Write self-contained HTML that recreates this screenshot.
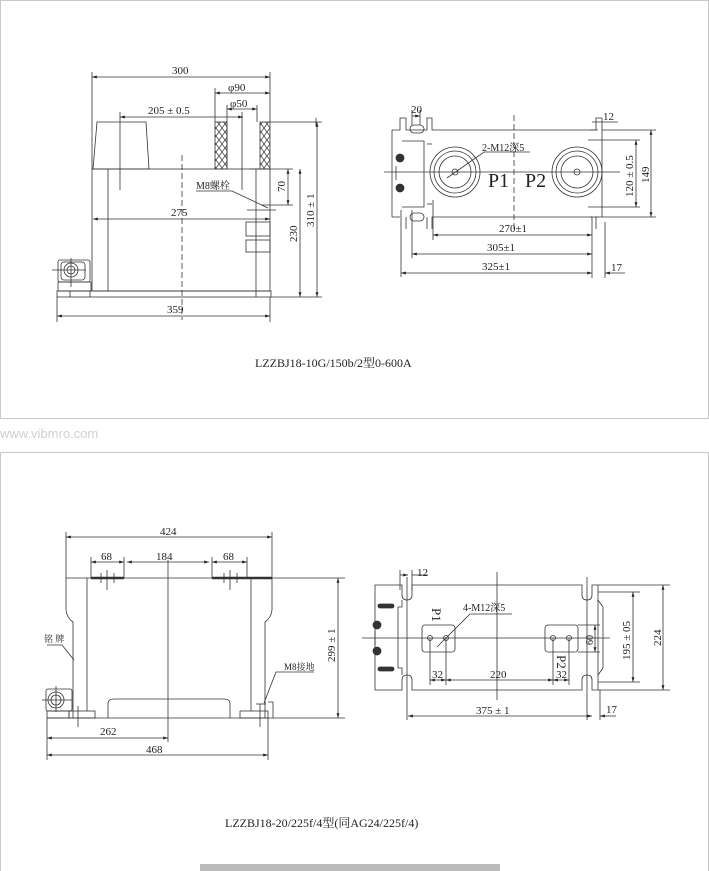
<!DOCTYPE html>
<html><head><meta charset="utf-8"><style>
html,body{margin:0;padding:0;background:#fff;}
svg{display:block;}
text{font-family:"Liberation Serif","Noto Serif CJK SC",serif;fill:#222;}
</style></head><body>
<svg width="709" height="871" viewBox="0 0 709 871" xmlns="http://www.w3.org/2000/svg">
<defs>
<marker id="a" viewBox="0 0 10 10" refX="10" refY="5" markerWidth="6" markerHeight="6" orient="auto-start-reverse"><path d="M0,2 L10,5 L0,8z" fill="#222"/></marker>
<pattern id="h" width="6" height="8" patternUnits="userSpaceOnUse"><path d="M0,0 L6,8 M6,0 L0,8" stroke="#333" stroke-width="0.7"/></pattern>
</defs>
<!-- panels -->
<rect x="0.5" y="0.5" width="708" height="418" fill="none" stroke="#c8c8c8"/>
<rect x="0.5" y="452.5" width="708" height="430" fill="none" stroke="#c8c8c8"/>
<text x="0" y="438" font-family="Liberation Sans" font-size="13" style="font-family:'Liberation Sans',sans-serif;fill:#d0d0d0">www.vibmro.com</text>
<rect x="200" y="864" width="300" height="7" fill="#bbb"/>

<g stroke="#333" stroke-width="0.8" fill="none">
<!-- ===== TOP LEFT ===== -->
<line x1="92" y1="77" x2="270" y2="77" marker-start="url(#a)" marker-end="url(#a)"/>
<line x1="92" y1="72" x2="92" y2="169"/><line x1="270" y1="72" x2="270" y2="122"/>
<line x1="215" y1="93" x2="270" y2="93" marker-start="url(#a)" marker-end="url(#a)"/>
<line x1="215" y1="88" x2="215" y2="122"/>
<line x1="227" y1="109" x2="257" y2="109" marker-start="url(#a)" marker-end="url(#a)"/>
<line x1="227" y1="105" x2="227" y2="169"/><line x1="257" y1="105" x2="257" y2="122"/>
<line x1="120" y1="117" x2="243" y2="117" marker-start="url(#a)" marker-end="url(#a)"/>
<line x1="120" y1="112" x2="120" y2="190"/><line x1="242" y1="112" x2="242" y2="190"/>
<path d="M97,122 L146,122 L149,169 L93,169 Z"/>
<rect x="215" y="122" width="12" height="47" fill="url(#h)"/>
<rect x="260" y="122" width="10" height="47" fill="url(#h)"/>
<line x1="270" y1="122" x2="322" y2="122"/>
<line x1="316" y1="118" x2="316" y2="126"/>
<rect x="92" y="169" width="178" height="122"/>
<line x1="108" y1="169" x2="108" y2="291"/><line x1="256" y1="169" x2="256" y2="291"/>
<line x1="182" y1="155" x2="182" y2="320" stroke-dasharray="6,3"/>
<line x1="93" y1="219" x2="270" y2="219" marker-start="url(#a)" marker-end="url(#a)"/>
<line x1="247" y1="210" x2="276" y2="210"/>
<rect x="246" y="222" width="24" height="14"/><rect x="246" y="240" width="24" height="12"/>
<rect x="57" y="291" width="214" height="6"/>
<line x1="70" y1="291" x2="70" y2="297"/><line x1="90" y1="291" x2="90" y2="297"/><line x1="256" y1="291" x2="256" y2="297"/>
<rect x="58" y="260" width="32" height="22" rx="2"/>
<rect x="61" y="262" width="24" height="18" rx="3"/>
<circle cx="71" cy="270" r="7"/><circle cx="71" cy="270" r="4"/>
<line x1="52" y1="270" x2="86" y2="270"/><line x1="71" y1="258" x2="71" y2="287"/>
<rect x="58" y="282" width="33" height="9"/>
<line x1="57" y1="297" x2="57" y2="322"/><line x1="270" y1="297" x2="270" y2="322"/>
<line x1="57" y1="316" x2="270" y2="316" marker-start="url(#a)" marker-end="url(#a)"/>
<line x1="250" y1="169" x2="293" y2="169"/><line x1="262" y1="205" x2="293" y2="205"/>
<line x1="288" y1="169" x2="288" y2="205" marker-start="url(#a)" marker-end="url(#a)"/>
<line x1="300" y1="169" x2="300" y2="297" marker-start="url(#a)" marker-end="url(#a)"/>
<line x1="317" y1="122" x2="317" y2="297" marker-start="url(#a)" marker-end="url(#a)"/>
<line x1="271" y1="297" x2="322" y2="297"/>
<path d="M196,191 L232,191 L268,208"/>

<!-- ===== TOP RIGHT ===== -->
<path d="M392,130 L400,130 L400,118 L406,118 L406,130 L427,130 L427,118 L432,118 L432,130 L596,130 L596,118 L602,118 L602,217 L596,217 L596,229 M592,217 L432,217 L432,229 M427,217 L427,229 M406,217 L406,229 M400,217 L392,217 Z"/>
<line x1="392" y1="130" x2="392" y2="217"/>
<path d="M402,141 L424,141 L424,207 L402,207"/>
<line x1="427" y1="144" x2="432" y2="144"/><line x1="427" y1="204" x2="432" y2="204"/>
<rect x="410" y="125" width="14" height="8" rx="4"/><rect x="410" y="213" width="14" height="8" rx="4"/>
<circle cx="400" cy="158" r="4" fill="#333"/><circle cx="400" cy="188" r="4" fill="#333"/>
<line x1="396" y1="166" x2="396" y2="180"/>
<line x1="588" y1="140" x2="640" y2="140"/><line x1="588" y1="207" x2="640" y2="207"/>
<path d="M590,130 L598,130 M590,217 L598,217"/>
<line x1="602" y1="130" x2="656" y2="130"/><line x1="602" y1="217" x2="656" y2="217"/>
<circle cx="455" cy="172" r="25"/><circle cx="455" cy="172" r="21"/><circle cx="455" cy="172" r="16"/><circle cx="455" cy="172" r="3"/>
<circle cx="577" cy="172" r="25"/><circle cx="577" cy="172" r="21"/><circle cx="577" cy="172" r="16"/><circle cx="577" cy="172" r="3"/>
<line x1="384" y1="172" x2="620" y2="172"/>
<line x1="514" y1="115" x2="514" y2="230" stroke-dasharray="6,3"/>
<path d="M447,178 L484,152 L530,152"/>
<line x1="433" y1="200" x2="433" y2="240"/>
<line x1="592" y1="217" x2="592" y2="278"/><line x1="605" y1="222" x2="605" y2="278"/>
<line x1="412" y1="210" x2="412" y2="258"/><line x1="401" y1="210" x2="401" y2="277"/>
<line x1="433" y1="235" x2="592" y2="235" marker-start="url(#a)" marker-end="url(#a)"/>
<line x1="412" y1="254" x2="592" y2="254" marker-start="url(#a)" marker-end="url(#a)"/>
<line x1="401" y1="273" x2="592" y2="273" marker-start="url(#a)" marker-end="url(#a)"/>
<line x1="605" y1="273" x2="625" y2="273" marker-start="url(#a)"/>
<line x1="636" y1="140" x2="636" y2="207" marker-start="url(#a)" marker-end="url(#a)"/>
<line x1="651" y1="130" x2="651" y2="217" marker-start="url(#a)" marker-end="url(#a)"/>
<line x1="412" y1="116" x2="420" y2="116" marker-end="url(#a)"/>
<line x1="412" y1="110" x2="412" y2="125"/><line x1="420" y1="110" x2="420" y2="125"/>
<line x1="592" y1="122" x2="618" y2="122"/>

<!-- ===== BOTTOM LEFT ===== -->
<line x1="66" y1="537" x2="272" y2="537" marker-start="url(#a)" marker-end="url(#a)"/>
<line x1="66" y1="532" x2="66" y2="578"/><line x1="272" y1="532" x2="272" y2="578"/>
<line x1="91" y1="562" x2="124" y2="562" marker-start="url(#a)" marker-end="url(#a)"/>
<line x1="127" y1="562" x2="209" y2="562" marker-start="url(#a)" marker-end="url(#a)"/>
<line x1="212" y1="562" x2="247" y2="562" marker-start="url(#a)" marker-end="url(#a)"/>
<line x1="91" y1="557" x2="91" y2="578"/><line x1="124" y1="557" x2="124" y2="578"/>
<line x1="212" y1="557" x2="212" y2="578"/><line x1="247" y1="557" x2="247" y2="578"/>
<line x1="66" y1="578" x2="272" y2="578"/>
<line x1="91" y1="578" x2="124" y2="578" stroke-width="2.5"/>
<line x1="212" y1="578" x2="272" y2="578" stroke-width="2.5"/>
<line x1="107" y1="570" x2="107" y2="590"/><line x1="101" y1="573" x2="101" y2="583"/><line x1="114" y1="573" x2="114" y2="583"/>
<line x1="230" y1="570" x2="230" y2="590"/><line x1="224" y1="573" x2="224" y2="583"/><line x1="237" y1="573" x2="237" y2="583"/>
<path d="M66,578 L66,610 Q67,618 73,622 L73,718"/>
<path d="M272,578 L272,610 Q271,618 265,622 L265,718"/>
<line x1="87" y1="578" x2="87" y2="711"/><line x1="251" y1="578" x2="251" y2="711"/>
<line x1="168" y1="560" x2="168" y2="742"/>
<path d="M108,718 L108,704 Q108,699 114,699 L224,699 Q230,699 230,704 L230,718"/>
<line x1="47" y1="718" x2="268" y2="718"/>
<rect x="47" y="711" width="22" height="7"/><rect x="69" y="711" width="26" height="7"/>
<rect x="240" y="711" width="28" height="7"/>
<rect x="46" y="689" width="26" height="22" rx="2"/>
<circle cx="56" cy="700" r="8"/><circle cx="56" cy="700" r="5"/>
<line x1="42" y1="700" x2="72" y2="700"/><line x1="56" y1="686" x2="56" y2="712"/>
<line x1="78" y1="706" x2="78" y2="727"/>
<line x1="260" y1="704" x2="260" y2="727"/><line x1="256" y1="704" x2="266" y2="704"/>
<path d="M268,702 L273,702 L273,718"/>
<path d="M264,703 L276,672 L314,672"/>
<path d="M47,645 L62,645 L74,660"/>
<line x1="47" y1="718" x2="47" y2="760"/><line x1="268" y1="718" x2="268" y2="760"/>
<line x1="47" y1="738" x2="168" y2="738" marker-start="url(#a)" marker-end="url(#a)"/>
<line x1="47" y1="755" x2="268" y2="755" marker-start="url(#a)" marker-end="url(#a)"/>
<line x1="272" y1="578" x2="345" y2="578"/><line x1="268" y1="718" x2="345" y2="718"/>
<line x1="338" y1="578" x2="338" y2="718" marker-start="url(#a)" marker-end="url(#a)"/>

<!-- ===== BOTTOM RIGHT ===== -->
<path d="M375,585 L402,585 L402,595 Q402,600 407,600 Q412,600 412,595 L412,585 L582,585 L582,595 Q582,600 587,600 Q592,600 592,595 L592,585 L598,585 L598,690 L592,690 L592,680 Q592,675 587,675 Q582,675 582,680 L582,690 L412,690 L412,680 Q412,675 407,675 Q402,675 402,680 L402,690 L375,690 Z"/>
<path d="M402,600 L402,607 L398,607 L398,668 L402,668 L402,675"/>
<path d="M598,600 L603,607 L603,668 L598,675"/>
<rect x="378" y="604" width="16" height="4" rx="2" fill="#333"/><rect x="378" y="667" width="16" height="4" rx="2" fill="#333"/>
<circle cx="377" cy="625" r="4" fill="#333"/><circle cx="377" cy="651" r="4" fill="#333"/>
<line x1="375" y1="631" x2="375" y2="645"/>
<line x1="407" y1="577" x2="407" y2="720"/><line x1="587" y1="577" x2="587" y2="720"/>
<rect x="422" y="625" width="33" height="27" rx="3"/>
<rect x="545" y="625" width="33" height="27" rx="3"/>
<circle cx="430" cy="638" r="2.5"/><circle cx="446" cy="638" r="2.5"/>
<circle cx="553" cy="638" r="2.5"/><circle cx="569" cy="638" r="2.5"/>
<line x1="362" y1="638" x2="610" y2="638"/>
<line x1="497" y1="572" x2="497" y2="700"/>
<path d="M437,647 L470,614 L512,614"/>
<line x1="430" y1="638" x2="430" y2="685"/><line x1="446" y1="638" x2="446" y2="685"/>
<line x1="553" y1="638" x2="553" y2="685"/><line x1="569" y1="638" x2="569" y2="685"/>
<line x1="430" y1="680" x2="446" y2="680" marker-start="url(#a)" marker-end="url(#a)"/>
<line x1="446" y1="680" x2="553" y2="680" marker-start="url(#a)" marker-end="url(#a)"/>
<line x1="553" y1="680" x2="569" y2="680" marker-start="url(#a)" marker-end="url(#a)"/>
<line x1="578" y1="625" x2="600" y2="625"/><line x1="578" y1="652" x2="600" y2="652"/>
<line x1="595" y1="625" x2="595" y2="652" marker-start="url(#a)" marker-end="url(#a)"/>
<line x1="598" y1="592" x2="640" y2="592"/><line x1="598" y1="682" x2="640" y2="682"/>
<line x1="633" y1="592" x2="633" y2="682" marker-start="url(#a)" marker-end="url(#a)"/>
<line x1="598" y1="585" x2="670" y2="585"/><line x1="598" y1="690" x2="670" y2="690"/>
<line x1="663" y1="585" x2="663" y2="690" marker-start="url(#a)" marker-end="url(#a)"/>
<line x1="600" y1="690" x2="600" y2="720"/>
<line x1="408" y1="716" x2="592" y2="716" marker-start="url(#a)" marker-end="url(#a)"/>
<line x1="600" y1="716" x2="616" y2="716" marker-start="url(#a)"/>
<line x1="400" y1="575" x2="408" y2="575" marker-end="url(#a)"/>
<line x1="400" y1="570" x2="400" y2="590"/><line x1="412" y1="570" x2="412" y2="590"/>
<line x1="412" y1="575" x2="428" y2="575"/>
</g>

<g font-size="11">
<text x="172" y="74">300</text>
<text x="228" y="91">φ90</text>
<text x="230" y="107">φ50</text>
<text x="148" y="114">205 ± 0.5</text>
<text x="171" y="216">275</text>
<text x="196" y="189" font-size="10">M8螺栓</text>
<text x="167" y="313">359</text>
<text transform="translate(285,192) rotate(-90)">70</text>
<text transform="translate(297,242) rotate(-90)">230</text>
<text transform="translate(314,227) rotate(-90)">310 ± 1</text>
<text x="411" y="113">20</text>
<text x="603" y="120">12</text>
<text x="482" y="151" font-size="10">2-M12深5</text>
<text x="488" y="187" font-size="20">P1</text>
<text x="525" y="187" font-size="20">P2</text>
<text x="499" y="232">270±1</text>
<text x="487" y="251">305±1</text>
<text x="482" y="270">325±1</text>
<text x="611" y="271">17</text>
<text transform="translate(633,197) rotate(-90)">120 ± 0.5</text>
<text transform="translate(649,183) rotate(-90)">149</text>
<text x="255" y="367" font-size="12">LZZBJ18-10G/150b/2型0-600A</text>

<text x="160" y="535">424</text>
<text x="101" y="560">68</text>
<text x="156" y="560">184</text>
<text x="223" y="560">68</text>
<text x="44" y="642" font-size="9">铭 牌</text>
<text x="284" y="670" font-size="9">M8接地</text>
<text x="100" y="735">262</text>
<text x="146" y="753">468</text>
<text transform="translate(335,662) rotate(-90)">299 ± 1</text>
<text x="417" y="576">12</text>
<text x="463" y="611" font-size="10">4-M12深5</text>
<text transform="translate(432,608) rotate(90)" font-size="13">P1</text>
<text transform="translate(557,655) rotate(90)" font-size="13">P2</text>
<text x="432" y="678">32</text>
<text x="490" y="678">220</text>
<text x="556" y="678">32</text>
<text transform="translate(593,645) rotate(-90)" font-size="10">60</text>
<text x="476" y="714">375 ± 1</text>
<text x="606" y="713">17</text>
<text transform="translate(630,660) rotate(-90)">195 ± 05</text>
<text transform="translate(661,646) rotate(-90)">224</text>
<text x="225" y="827" font-size="12">LZZBJ18-20/225f/4型(同AG24/225f/4)</text>
</g>
</svg>
</body></html>
